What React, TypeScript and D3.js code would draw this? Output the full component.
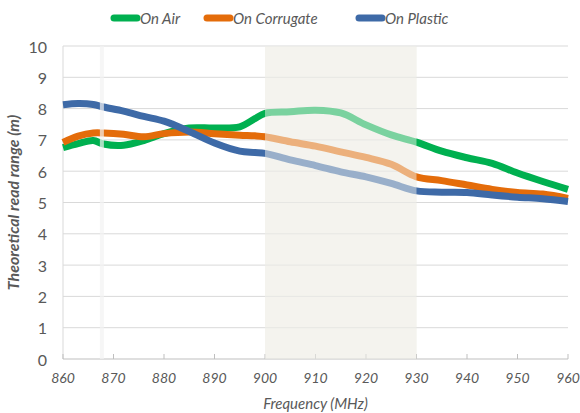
import * as d3 from 'd3'
import { FC, useMemo } from 'react'

const WIDTH = 580
const HEIGHT = 413
const MARGIN = { top: 46, right: 12, bottom: 54, left: 63 }
const FONT = 'Lato, "Open Sans", sans-serif'
const TEXT_COLOR = '#595959'

// Data
const FREQ = [860, 863, 866, 868, 872, 876, 880, 885, 890, 895, 898, 900, 905, 910, 915, 920, 925, 930, 935, 940, 945, 950, 955, 960]
const ON_AIR = [6.75, 6.88, 6.98, 6.87, 6.83, 6.98, 7.2, 7.38, 7.38, 7.42, 7.68, 7.85, 7.9, 7.95, 7.86, 7.48, 7.16, 6.93, 6.64, 6.43, 6.25, 5.94, 5.67, 5.42]
const ON_CORRUGATE = [6.92, 7.12, 7.22, 7.22, 7.18, 7.1, 7.2, 7.25, 7.2, 7.15, 7.13, 7.1, 6.94, 6.8, 6.62, 6.44, 6.22, 5.82, 5.7, 5.56, 5.42, 5.32, 5.27, 5.13]
const ON_PLASTIC = [8.12, 8.16, 8.13, 8.05, 7.92, 7.75, 7.6, 7.27, 6.9, 6.64, 6.6, 6.57, 6.36, 6.18, 5.98, 5.82, 5.61, 5.37, 5.33, 5.32, 5.24, 5.17, 5.12, 5.03]

const SERIES_NAMES = ['On Air', 'On Corrugate', 'On Plastic']
const SERIES_COLORS = ['#00b050', '#e46c0a', '#3e6aa7']
const X_TICKS = [860, 870, 880, 890, 900, 910, 920, 930, 940, 950, 960]
const Y_TICKS = [0, 1, 2, 3, 4, 5, 6, 7, 8, 9, 10]
const BAND = [900, 930]
const MARKER_FREQ = 867.7

const App: FC = () => {
  const boundsWidth = WIDTH - MARGIN.left - MARGIN.right
  const boundsHeight = HEIGHT - MARGIN.top - MARGIN.bottom

  const xScale = useMemo(() => d3.scaleLinear().domain([860, 960]).range([0, boundsWidth]), [boundsWidth])
  const yScale = useMemo(() => d3.scaleLinear().domain([0, 10]).range([boundsHeight, 0]), [boundsHeight])

  const series = [ON_AIR, ON_CORRUGATE, ON_PLASTIC]

  const lineGenerator = d3
    .line<number>()
    .x((_, i) => xScale(FREQ[i]))
    .y((d) => yScale(d))
    .curve(d3.curveCatmullRom.alpha(0.5))

  const bandX0 = xScale(BAND[0])
  const bandX1 = xScale(BAND[1])

  return (
    <div style={{ position: 'fixed', left: 0, top: 0 }}>
      <svg width={WIDTH} height={HEIGHT} style={{ display: 'block', background: '#fff' }}>
        {/* legend */}
        <g fontFamily={FONT} fontStyle='italic' fontSize={15} fill={TEXT_COLOR}>
          {SERIES_NAMES.map((name, i) => {
            const x0 = [114, 207, 359][i]
            return (
              <g key={name}>
                <line x1={x0} x2={x0 + 23} y1={18} y2={18} stroke={SERIES_COLORS[i]} strokeWidth={7} strokeLinecap='round' />
                <text x={x0 + 26} y={18} dominantBaseline='central'>{name}</text>
              </g>
            )
          })}
        </g>

        <g transform={`translate(${MARGIN.left},${MARGIN.top})`}>
          {/* shaded band */}
          <rect x={bandX0} y={0} width={bandX1 - bandX0} height={boundsHeight} fill='#f4f3ee' />

          {/* grid */}
          {Y_TICKS.filter((t) => t > 0).map((t) => (
            <line key={t} x1={0} x2={boundsWidth} y1={yScale(t)} y2={yScale(t)} stroke='#d9d9d9' strokeWidth={1} />
          ))}
          <line x1={0} x2={0} y1={0} y2={boundsHeight} stroke='#d9d9d9' strokeWidth={1} />
          <line x1={0} x2={boundsWidth} y1={boundsHeight} y2={boundsHeight} stroke='#bfbfbf' strokeWidth={1} />
          {X_TICKS.map((t) => (
            <line key={t} x1={xScale(t)} x2={xScale(t)} y1={boundsHeight} y2={boundsHeight - 5} stroke='#bfbfbf' strokeWidth={1} />
          ))}

          {/* series */}
          {series.map((values, i) => (
            <path
              key={i}
              d={lineGenerator(values) as string}
              fill='none'
              stroke={SERIES_COLORS[i]}
              strokeWidth={7}
              strokeLinejoin='round'
            />
          ))}

          {/* band fades the lines */}
          <rect x={bandX0} y={0} width={bandX1 - bandX0} height={boundsHeight} fill='#f4f3ee' opacity={0.5} />

          {/* marker line */}
          <rect x={xScale(MARKER_FREQ) - 2} y={0} width={4} height={boundsHeight} fill='#f2f2f2' opacity={0.7} />

          {/* y tick labels */}
          {Y_TICKS.map((t) => (
            <text
              key={t}
              x={-16}
              y={yScale(t)}
              textAnchor='end'
              dominantBaseline='central'
              fontFamily={FONT}
              fontSize={16}
              fill={TEXT_COLOR}
            >
              {t}
            </text>
          ))}

          {/* x tick labels */}
          {X_TICKS.map((t) => (
            <text
              key={t}
              x={xScale(t)}
              y={boundsHeight + 24}
              textAnchor='middle'
              fontFamily={FONT}
              fontStyle='italic'
              fontSize={14}
              fill={TEXT_COLOR}
            >
              {t}
            </text>
          ))}

          <text
            x={boundsWidth / 2}
            y={boundsHeight + 50}
            textAnchor='middle'
            fontFamily={FONT}
            fontStyle='italic'
            fontSize={15}
            fill={TEXT_COLOR}
          >
            Frequency (MHz)
          </text>

          <text
            transform={`translate(${-44},${boundsHeight / 2}) rotate(-90)`}
            textAnchor='middle'
            fontFamily={FONT}
            fontStyle='italic'
            fontWeight='bold'
            fontSize={16}
            fill={TEXT_COLOR}
          >
            Theoretical read range (m)
          </text>
        </g>
      </svg>
    </div>
  )
}

export default App
